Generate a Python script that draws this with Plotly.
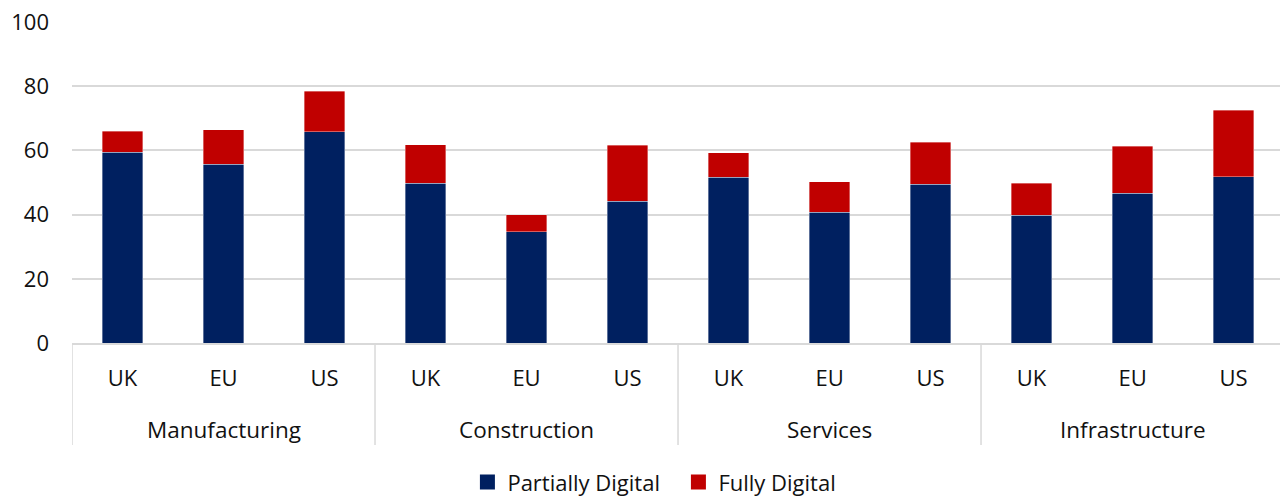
import plotly.graph_objects as go

# Sectors and regions
sectors = ["Manufacturing", "Construction", "Services", "Infrastructure"]
regions = ["UK", "EU", "US"]

# Share of firms (%) per sector/region, in sector order then region order
partially_digital = [59.5, 55.7, 65.8, 49.7, 34.6, 44.1, 51.7, 40.8, 49.5, 39.8, 46.6, 51.8]
total_digital = [65.9, 66.4, 78.4, 61.7, 39.9, 61.6, 59.2, 50.2, 62.6, 49.7, 61.3, 72.5]
fully_digital = [round(t - p, 1) for t, p in zip(total_digital, partially_digital)]

y_ticks = [0, 20, 40, 60, 80, 100]

NAVY = "#002060"
RED = "#C00000"
GRID = "#d9d9d9"
FONT = "Open Sans"
TEXT = "#111111"

n = len(sectors) * len(regions)
x_pos = list(range(n))
x_labels = [r for _ in sectors for r in regions]

fig = go.Figure()
for name, vals, col in [("Partially Digital", partially_digital, NAVY),
                        ("Fully Digital", fully_digital, RED)]:
    fig.add_trace(go.Bar(
        x=x_pos, y=vals, name=name, showlegend=False, legendgroup=name,
        marker=dict(color=col, line=dict(color="rgba(255,255,255,0.45)", width=0.8)),
        width=0.4,
    ))

# Legend entries with larger square swatches
for name, col in [("Partially Digital", NAVY), ("Fully Digital", RED)]:
    fig.add_trace(go.Scatter(
        x=[None], y=[None], mode="markers", name=name, legendgroup=name,
        marker=dict(symbol="square", size=15, color=col),
    ))

# Sector dividers below the axis
label_depth = -0.318
for k in range(len(sectors) + 1):
    xb = k * len(regions) - 0.5
    fig.add_shape(type="line", xref="x", yref="paper",
                  x0=xb, x1=xb, y0=0, y1=label_depth,
                  line=dict(color=GRID, width=1.5))

# Sector names under the region labels
for k, s in enumerate(sectors):
    fig.add_annotation(x=k * len(regions) + 1, y=0, xref="x", yref="paper",
                       text=s, showarrow=False, yanchor="middle", yshift=-86,
                       font=dict(family=FONT, size=22.5, color=TEXT))

fig.update_layout(
    barmode="stack",
    width=1280, height=498,
    margin=dict(l=72, r=0, t=22, b=155, autoexpand=False),
    plot_bgcolor="white", paper_bgcolor="white",
    font=dict(family=FONT, size=22, color=TEXT),
    showlegend=True,
    legend=dict(orientation="h", x=0.502, xanchor="center", y=-0.368, yanchor="top",
                font=dict(family=FONT, size=22, color=TEXT),
                traceorder="normal", itemwidth=30, entrywidth=166),
    xaxis=dict(
        range=[-0.5, 11.46], tickmode="array", tickvals=x_pos, ticktext=x_labels,
        showgrid=False, showline=True, linecolor=GRID, linewidth=1.5,
        ticks="", ticklabelstandoff=15, fixedrange=True,
    ),
    yaxis=dict(
        range=[0, 100], tickvals=y_ticks, showgrid=True, gridcolor=GRID, gridwidth=1.5,
        zeroline=False, showline=False, ticks="", ticklabelstandoff=22,
    ),
)

fig.write_html("out.html")
